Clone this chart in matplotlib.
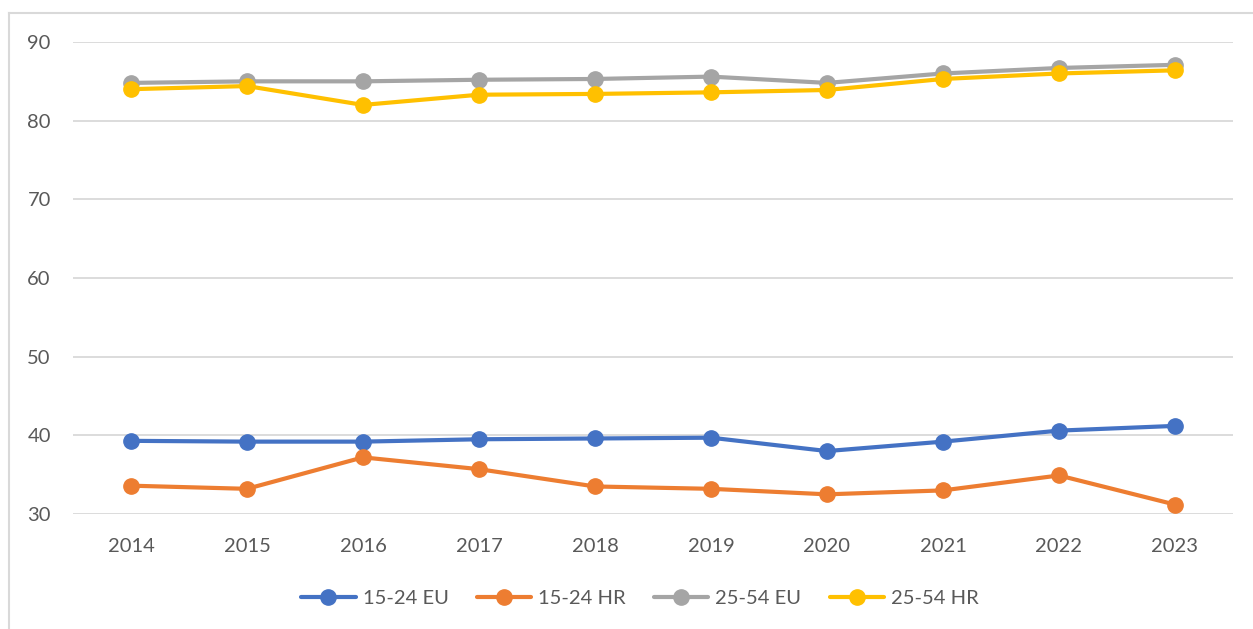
import numpy as np
import matplotlib.pyplot as plt
from matplotlib.lines import Line2D

years = ['2014', '2015', '2016', '2017', '2018', '2019', '2020', '2021', '2022', '2023']
eu_15_24 = [39.3, 39.2, 39.2, 39.5, 39.6, 39.7, 38.0, 39.2, 40.6, 41.2]
hr_15_24 = [33.6, 33.2, 37.2, 35.7, 33.5, 33.2, 32.5, 33.0, 34.9, 31.2]
eu_25_54 = [84.8, 85.0, 85.0, 85.2, 85.3, 85.6, 84.8, 86.0, 86.7, 87.1]
hr_25_54 = [84.0, 84.4, 82.0, 83.3, 83.4, 83.6, 83.9, 85.3, 86.0, 86.4]

series = [('15-24 EU', eu_15_24, '#4472C4'),
          ('15-24 HR', hr_15_24, '#ED7D31'),
          ('25-54 EU', eu_25_54, '#A5A5A5'),
          ('25-54 HR', hr_25_54, '#FFC000')]

plt.rcParams['font.family'] = ['Lato', 'DejaVu Sans']
text_col = '#595959'

fig = plt.figure(figsize=(12.53, 6.29), dpi=100)
ax = fig.add_axes([73/1253, 1-514/629, (1233-73)/1253, (514-42)/629])

x = np.arange(len(years))
for name, vals, col in series:
    ax.plot(x, vals, color=col, lw=3, marker='o', ms=11, label=name,
            solid_capstyle='round', zorder=3)

ax.set_xlim(-0.5, len(years) - 0.5)
ax.set_ylim(30, 90)
ax.set_yticks(np.arange(30, 91, 10))
ax.set_xticks(x)
ax.set_xticklabels(years)
ax.grid(axis='y', color='#d9d9d9', lw=1.3)
ax.set_axisbelow(True)
for s in ax.spines.values():
    s.set_visible(False)
ax.tick_params(length=0, colors=text_col, labelsize=14.5)
ax.tick_params(axis='x', pad=17)
ax.tick_params(axis='y', pad=16)

ax.legend(loc='center', bbox_to_anchor=(640/1253, 1-598/629), bbox_transform=fig.transFigure,
          ncol=4, frameon=False, fontsize=14.5, labelcolor=text_col,
          handlelength=2.7, columnspacing=1.4, handletextpad=0.35)

# chart frame (left and top edges visible)
fig.add_artist(Line2D([8.5/1253, 8.5/1253], [0, 1-13/629], transform=fig.transFigure,
                      color='#d9d9d9', lw=1.5))
fig.add_artist(Line2D([8.5/1253, 1], [1-13/629, 1-13/629], transform=fig.transFigure,
                      color='#d9d9d9', lw=1.5))

fig.savefig('out.png', dpi=100, facecolor='white')
